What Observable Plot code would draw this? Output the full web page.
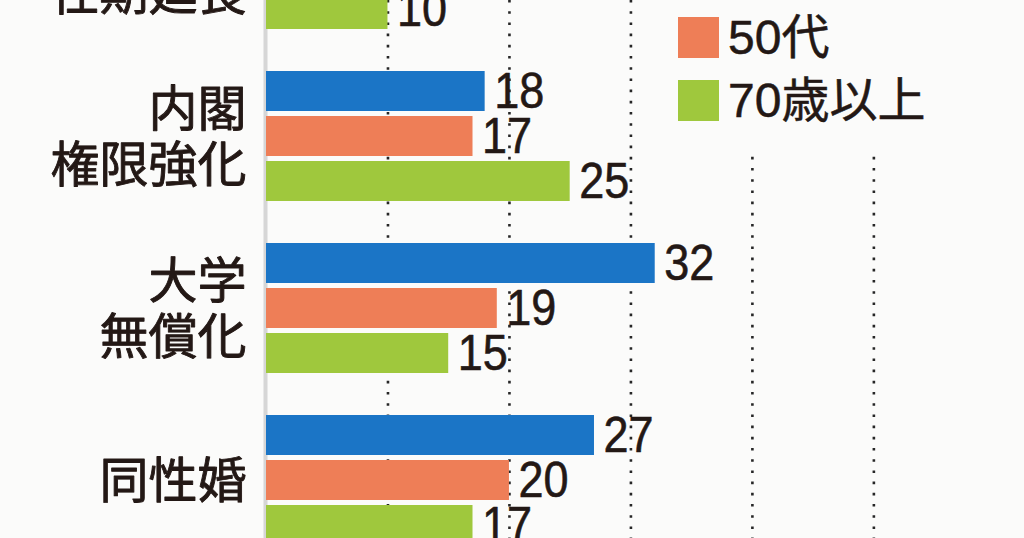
<!DOCTYPE html>
<html><head><meta charset="utf-8">
<script src="https://cdn.jsdelivr.net/npm/d3@7"></script>
<script src="https://cdn.jsdelivr.net/npm/@observablehq/plot@0.6"></script>
<style>
html,body{margin:0;padding:0;background:#fbfbfa;}
#wrap{position:relative;width:1024px;height:538px;overflow:hidden;background:#fbfbfa;}
#wrap svg{position:absolute;left:0;top:0;}
#legendbg{position:absolute;left:662px;top:0;width:362px;height:156px;background:#fbfbfa;}
#legend{position:absolute;left:678px;top:-46px;}
.row{display:flex;align-items:center;height:41px;margin-bottom:22px;}
.sw{width:41px;height:41px;margin-right:9px;flex:none;}
.lab{font-family:"Liberation Sans","Noto Sans CJK JP",sans-serif;font-size:48px;line-height:41px;color:#231815;white-space:nowrap;-webkit-text-stroke:0.5px #231815;}
</style></head><body><div id="wrap"></div>
<script>
// Data (the top group's blue/orange bars lie outside the crop)
const categories = ["任期延長", "内閣権限強化", "大学無償化", "同性婚"];
const categoryLabels = ["議員\n任期延長", "内閣\n権限強化", "大学\n無償化", "同性婚"];
const ageGroups = ["18～29歳", "50代", "70歳以上"];
const colors = ["#1b75c6", "#ee7e57", "#9fc83d"];
const valuesYoung = [20, 18, 32, 27];
const valuesFifties = [14, 17, 19, 20];
const valuesSeventies = [10, 25, 15, 17];
const gridTicks = [10, 20, 30, 40, 50];

const series = [valuesYoung, valuesFifties, valuesSeventies];
const rows = categories.flatMap((c, i) => ageGroups.map((g, j) => ({
  cat: c, label: categoryLabels[i], group: g, value: series[j][i]
})));

const wrap = document.getElementById("wrap");
const xScale = {domain: [0, 62.4], axis: null};
const ink = "#231815";

const grid = Plot.plot({
  width: 1024, height: 538,
  marginLeft: 266, marginRight: 0, marginTop: 0, marginBottom: 0,
  style: {background: "transparent"},
  x: xScale,
  marks: [
    Plot.ruleX([0], {stroke: "#d6d6d6", strokeWidth: 4, dx: -1}),
    Plot.ruleX(gridTicks, {stroke: "#262626", strokeWidth: 2.6, strokeDasharray: "2.6 8.6"})
  ]
});
wrap.appendChild(grid);

const bg = document.createElement("div");
bg.id = "legendbg";
wrap.appendChild(bg);

const chart = Plot.plot({
  width: 1024, height: 538,
  marginLeft: 266, marginRight: 0, marginTop: 0, marginBottom: 0,
  style: {background: "transparent", overflow: "visible"},
  x: xScale,
  y: {domain: ageGroups, paddingInner: 0.12, paddingOuter: 0, axis: null},
  fy: {domain: categories, range: [-102.5, 546.5], paddingInner: 0.2377, paddingOuter: 0, axis: null},
  color: {domain: ageGroups, range: colors},
  facet: {data: rows, y: "cat"},
  marks: [
    Plot.barX(rows, {x: "value", y: "group", fill: "group"}),
    Plot.text(rows, {
      x: "value", y: "group", text: d => String(d.value),
      dx: 9, textAnchor: "start", fontSize: 50,
      fontFamily: "'Liberation Sans', sans-serif",
      fill: ink, stroke: ink, strokeWidth: 0.6
    }),
    Plot.text(rows, Plot.selectFirst({
      text: "label", frameAnchor: "left", dx: -20, textAnchor: "end",
      fontSize: 49, lineHeight: 1.15,
      fontFamily: "'Noto Sans CJK JP', sans-serif",
      fill: ink, stroke: ink, strokeWidth: 0.9
    }))
  ]
});
wrap.appendChild(chart);

// condense the numeric value labels horizontally (narrow digits as in the reference)
d3.select(chart).selectAll("text").filter(function() {
  return /^\d+$/.test(this.textContent);
}).each(function() {
  const el = d3.select(this);
  const t = el.attr("transform");
  if (t) {
    el.attr("transform", t + " scale(0.9,1)");
  } else {
    const x = +el.attr("x") || 0, y = +el.attr("y") || 0;
    el.attr("x", null).attr("y", null).attr("transform", `translate(${x},${y}) scale(0.9,1)`);
  }
});

const legend = d3.select(wrap).append("div").attr("id", "legend");
ageGroups.forEach((g, i) => {
  const row = legend.append("div").attr("class", "row");
  row.append("div").attr("class", "sw").style("background", colors[i]);
  row.append("span").attr("class", "lab").text(g);
});
</script></body></html>
